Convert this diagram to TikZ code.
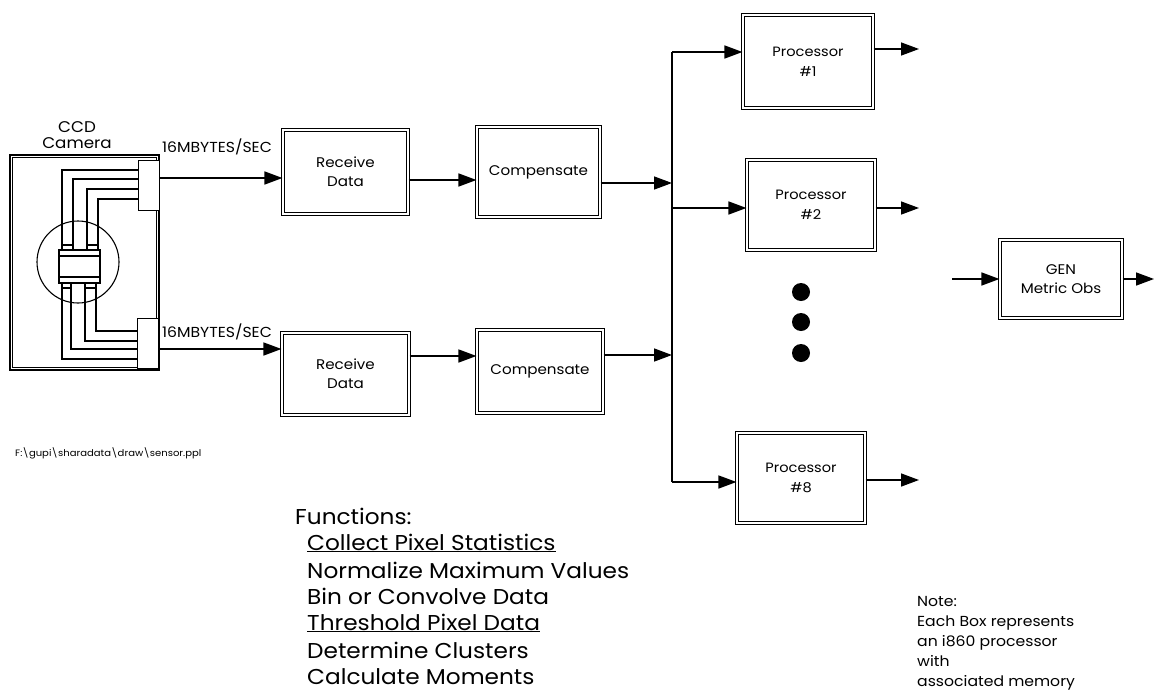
\documentclass[tikz,border=0pt]{standalone}
\usepackage{fontspec}
\setmainfont{Poppins}[FakeStretch=1.08]
\usetikzlibrary{arrows.meta,calc}

\begin{document}
\begin{tikzpicture}[x=1pt,y=-1pt,
  box/.style={draw, double, double distance=1.6pt, line width=1.1pt, align=center,
    inner sep=0pt, fill=white, font=\fontsize{14}{19}\selectfont},
  proc/.style={box, font=\fontsize{13.5}{20}\selectfont},
  arr/.style={line width=1.5pt, -{Triangle[length=18pt,width=13pt]}},
  wire/.style={line width=1.2pt},
  plug/.style={draw, fill=white, line width=1pt, inner sep=0pt, minimum width=21pt, minimum height=50pt},
  dot/.style={circle, fill, inner sep=0pt, minimum size=18pt},
  lbl/.style={inner sep=0pt, anchor=west}]

\useasboundingbox (0,0) rectangle (1155,696);

% ---------- CCD camera ----------
\node[draw, line width=2.2pt, inner sep=0pt, minimum width=149pt, minimum height=215pt] (cam) at (84.5,262.5) {};
\draw[line width=0.8pt] ([shift={(3.5pt,-3.5pt)}]cam.north west) rectangle ([shift={(-3.5pt,3.5pt)}]cam.south east);
\node[plug] (blk1) at (148.5,185) {};
\node[plug] (blk2) at (148,343) {};

% sensor chip and its pads
\draw[line width=1.1pt] (59,250) rectangle (100,283);
\draw[line width=1.1pt] (59,256) -- (100,256) (59,277) -- (100,277);
\draw[line width=1.1pt] (62,245) rectangle (73,250) (87,245) rectangle (98,250);
\draw[line width=1.1pt] (62,283) rectangle (71,288) (85,283) rectangle (96,288);

% wiring from the chip to the two output plugs
\draw[wire] (62,245) |- (blk1.west |- 0,170);
\draw[wire] (73,245) |- (blk1.west |- 0,179);
\draw[wire] (87,245) |- (blk1.west |- 0,189);
\draw[wire] (98,245) |- (blk1.west |- 0,199);
\draw[wire] (96,288) |- (blk2.west |- 0,331);
\draw[wire] (85,288) |- (blk2.west |- 0,341);
\draw[wire] (71,288) |- (blk2.west |- 0,349);
\draw[wire] (62,288) |- (blk2.west |- 0,359);

\draw[line width=1.1pt] (78,262) circle[radius=41pt];

\node[font=\fontsize{15.5}{17}\selectfont] (ccd) at (77,127) {CCD};
\node[font=\fontsize{15.5}{17}\selectfont] (camlbl) at (77,143) {Camera};
\node[lbl, font=\fontsize{14.5}{16}\selectfont] (rate1) at (162,147) {16MBYTES/SEC};
\node[lbl, font=\fontsize{14.5}{16}\selectfont] (rate2) at (162,332) {16MBYTES/SEC};

% ---------- processing boxes ----------
\node[box, minimum width=125pt, minimum height=84pt] (rx1) at (345.5,172) {Receive\\Data};
\node[box, minimum width=123pt, minimum height=90pt] (cp1) at (538.5,172) {Compensate};
\node[box, minimum width=127pt, minimum height=82pt] (rx2) at (345.5,374) {Receive\\Data};
\node[box, minimum width=126pt, minimum height=83pt] (cp2) at (540,371.5) {Compensate};

\node[proc, minimum width=130pt, minimum height=93pt] (p1) at (808,61.5) {Processor\\\#1};
\node[proc, minimum width=128pt, minimum height=90pt] (p2) at (811,205) {Processor\\\#2};
\node[proc, minimum width=128pt, minimum height=90pt] (p8) at (801,478) {Processor\\\#8};
\node[proc, font=\fontsize{14}{19}\selectfont, minimum width=122pt, minimum height=78pt] (gen) at (1061,279) {GEN\\Metric Obs};

\node[dot] (d1) at (801,292) {};
\node[dot] (d2) at (801,322) {};
\node[dot] (d3) at (801,353) {};

% ---------- data flow ----------
\draw[arr] ([yshift=7pt]blk1.east) -- ([yshift=7pt]blk1.east -| rx1.west);
\draw[arr] ([yshift=-8pt]rx1.east) -- ([yshift=-8pt]rx1.east -| cp1.west);
\draw[arr] ([yshift=-6pt]blk2.east) -- ([yshift=-6pt]blk2.east -| rx2.west);
\draw[arr] ([yshift=18pt]rx2.east) -- ([yshift=18pt]rx2.east -| cp2.west);

\coordinate (busX) at (672,0);
\coordinate (c1out) at ([yshift=-11pt]cp1.east);
\coordinate (c2out) at ([yshift=16.5pt]cp2.east);
\draw[arr] (c1out) -- (c1out -| busX);
\draw[arr] (c2out) -- (c2out -| busX);

\coordinate (p1in) at ([yshift=9.5pt]p1.west);
\coordinate (p2in) at ([yshift=-3pt]p2.west);
\coordinate (p8in) at ([yshift=-4pt]p8.west);
\draw[line width=1.5pt] (p1in -| busX) -- (p8in -| busX);
\draw[arr] (p1in -| busX) -- (p1in);
\draw[arr] (p2in -| busX) -- (p2in);
\draw[arr] (p8in -| busX) -- (p8in);

\coordinate (oX) at (919,0);
\coordinate (p1out) at ([yshift=12.5pt]p1.east);
\coordinate (p2out) at ([yshift=-3pt]p2.east);
\coordinate (p8out) at ([yshift=-2pt]p8.east);
\draw[arr] (p1out) -- (p1out -| oX);
\draw[arr] (p2out) -- (p2out -| oX);
\draw[arr] (p8out) -- (p8out -| oX);

\coordinate (gin) at (952,279);
\coordinate (gout) at (1154,279);
\draw[arr] (gin) -- (gen.west);
\draw[arr] (gen.east) -- (gout);

% ---------- annotations ----------
\node[lbl, font=\fontsize{9.3}{10}\selectfont] (path) at (15,453) {F:\textbackslash gupi\textbackslash sharadata\textbackslash draw\textbackslash sensor.ppl};

\begin{scope}[every node/.style={lbl, font=\fontsize{21.5}{24}\selectfont}]
\node (f0) at (295,516) {Functions:};
\node (f1) at (307,543) {\underline{Collect Pixel Statistics}};
\node (f2) at (307,570) {Normalize Maximum Values};
\node (f3) at (307,596) {Bin or Convolve Data};
\node (f4) at (307,623) {\underline{Threshold Pixel Data}};
\node (f5) at (307,650) {Determine Clusters};
\node (f6) at (307,677) {Calculate Moments};
\end{scope}

\node[inner sep=0pt, anchor=north west, align=left, font=\fontsize{14.5}{20}\selectfont] (note) at (917,596)
  {Note:\\Each Box represents\\an i860 processor\\with\\associated memory};

\end{tikzpicture}
\end{document}
